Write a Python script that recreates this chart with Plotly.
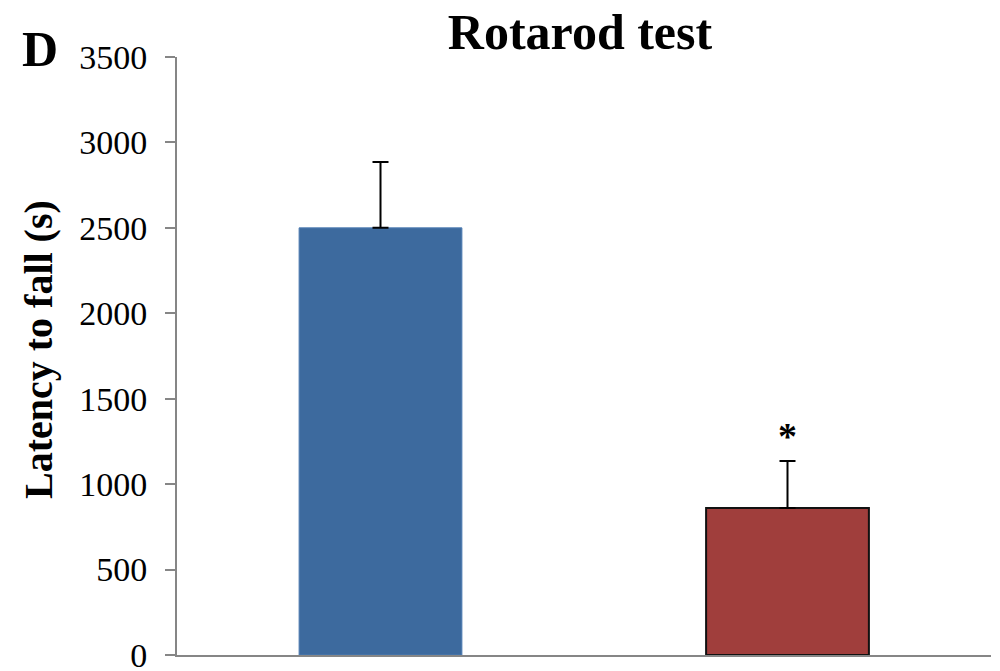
import plotly.graph_objects as go

# Data
groups = ["Group A", "Group B"]
latency = [2500, 860]
sem = [385, 275]
bar_colors = ["#3D6A9E", "#A03E3C"]
outline_colors = ["#4F7DB3", "#111111"]
outline_widths = [1, 2]
y_ticks = [0, 500, 1000, 1500, 2000, 2500, 3000, 3500]
sig_marks = ["", "*"]

W, H = 1000, 671
OFF = 8  # page body margin
# target plot area in page pixels: x 177..991, y 57..655
L, R, T, B = 177 - OFF, W - (991 - OFF), 57 - OFF, H - (655 - OFF)
pw, ph = W - L - R, H - T - B

def px_x(p):
    return (p - OFF - L) / pw

def px_y(p):
    return (H - B - (p - OFF)) / ph

fig = go.Figure()
fig.add_trace(go.Bar(
    x=groups, y=latency, width=0.4,
    marker=dict(color=bar_colors, line=dict(color=outline_colors, width=outline_widths)),
    error_y=dict(type="data", symmetric=False, array=sem, arrayminus=[0, 0],
                 color="black", thickness=2, width=8),
    showlegend=False,
))

serif = "Liberation Serif, Times New Roman, serif"

for g, v, s, m in zip(groups, latency, sem, sig_marks):
    if m:
        fig.add_annotation(x=g, y=v + s + 15, text="<b>" + m + "</b>", showarrow=False,
                           yanchor="bottom", font=dict(family=serif, size=38, color="black"))

fig.add_annotation(xref="paper", yref="paper", x=px_x(38), y=px_y(350),
                   text="<b>Latency to fall (s)</b>", textangle=-90, showarrow=False,
                   xanchor="center", yanchor="middle",
                   font=dict(family=serif, size=40, color="black"))
fig.add_annotation(xref="paper", yref="paper", x=px_x(40), y=px_y(49),
                   text="<b>D</b>", showarrow=False, xanchor="center", yanchor="middle",
                   font=dict(family=serif, size=50, color="black"))

fig.update_layout(
    width=W, height=H,
    margin=dict(l=L, r=R, t=T, b=B),
    paper_bgcolor="white", plot_bgcolor="white",
    title=dict(text="<b>Rotarod test</b>", xref="container", yref="container",
               x=(580 - OFF) / W, y=1 - (31 - OFF) / H, xanchor="center", yanchor="middle",
               font=dict(family=serif, size=50, color="black")),
    xaxis=dict(showline=True, linecolor="#868686", linewidth=2, showticklabels=False,
               ticks="", showgrid=False, zeroline=False, range=[-0.5, 1.5], automargin=False),
    yaxis=dict(range=[0, 3500], tickvals=y_ticks, showline=True, linecolor="#868686",
               linewidth=2, ticks="outside", ticklen=10, tickwidth=2, tickcolor="#868686",
               showgrid=False, zeroline=False, ticklabelstandoff=11, automargin=False,
               tickfont=dict(family=serif, size=34, color="black")),
)

fig.write_html("out.html")
